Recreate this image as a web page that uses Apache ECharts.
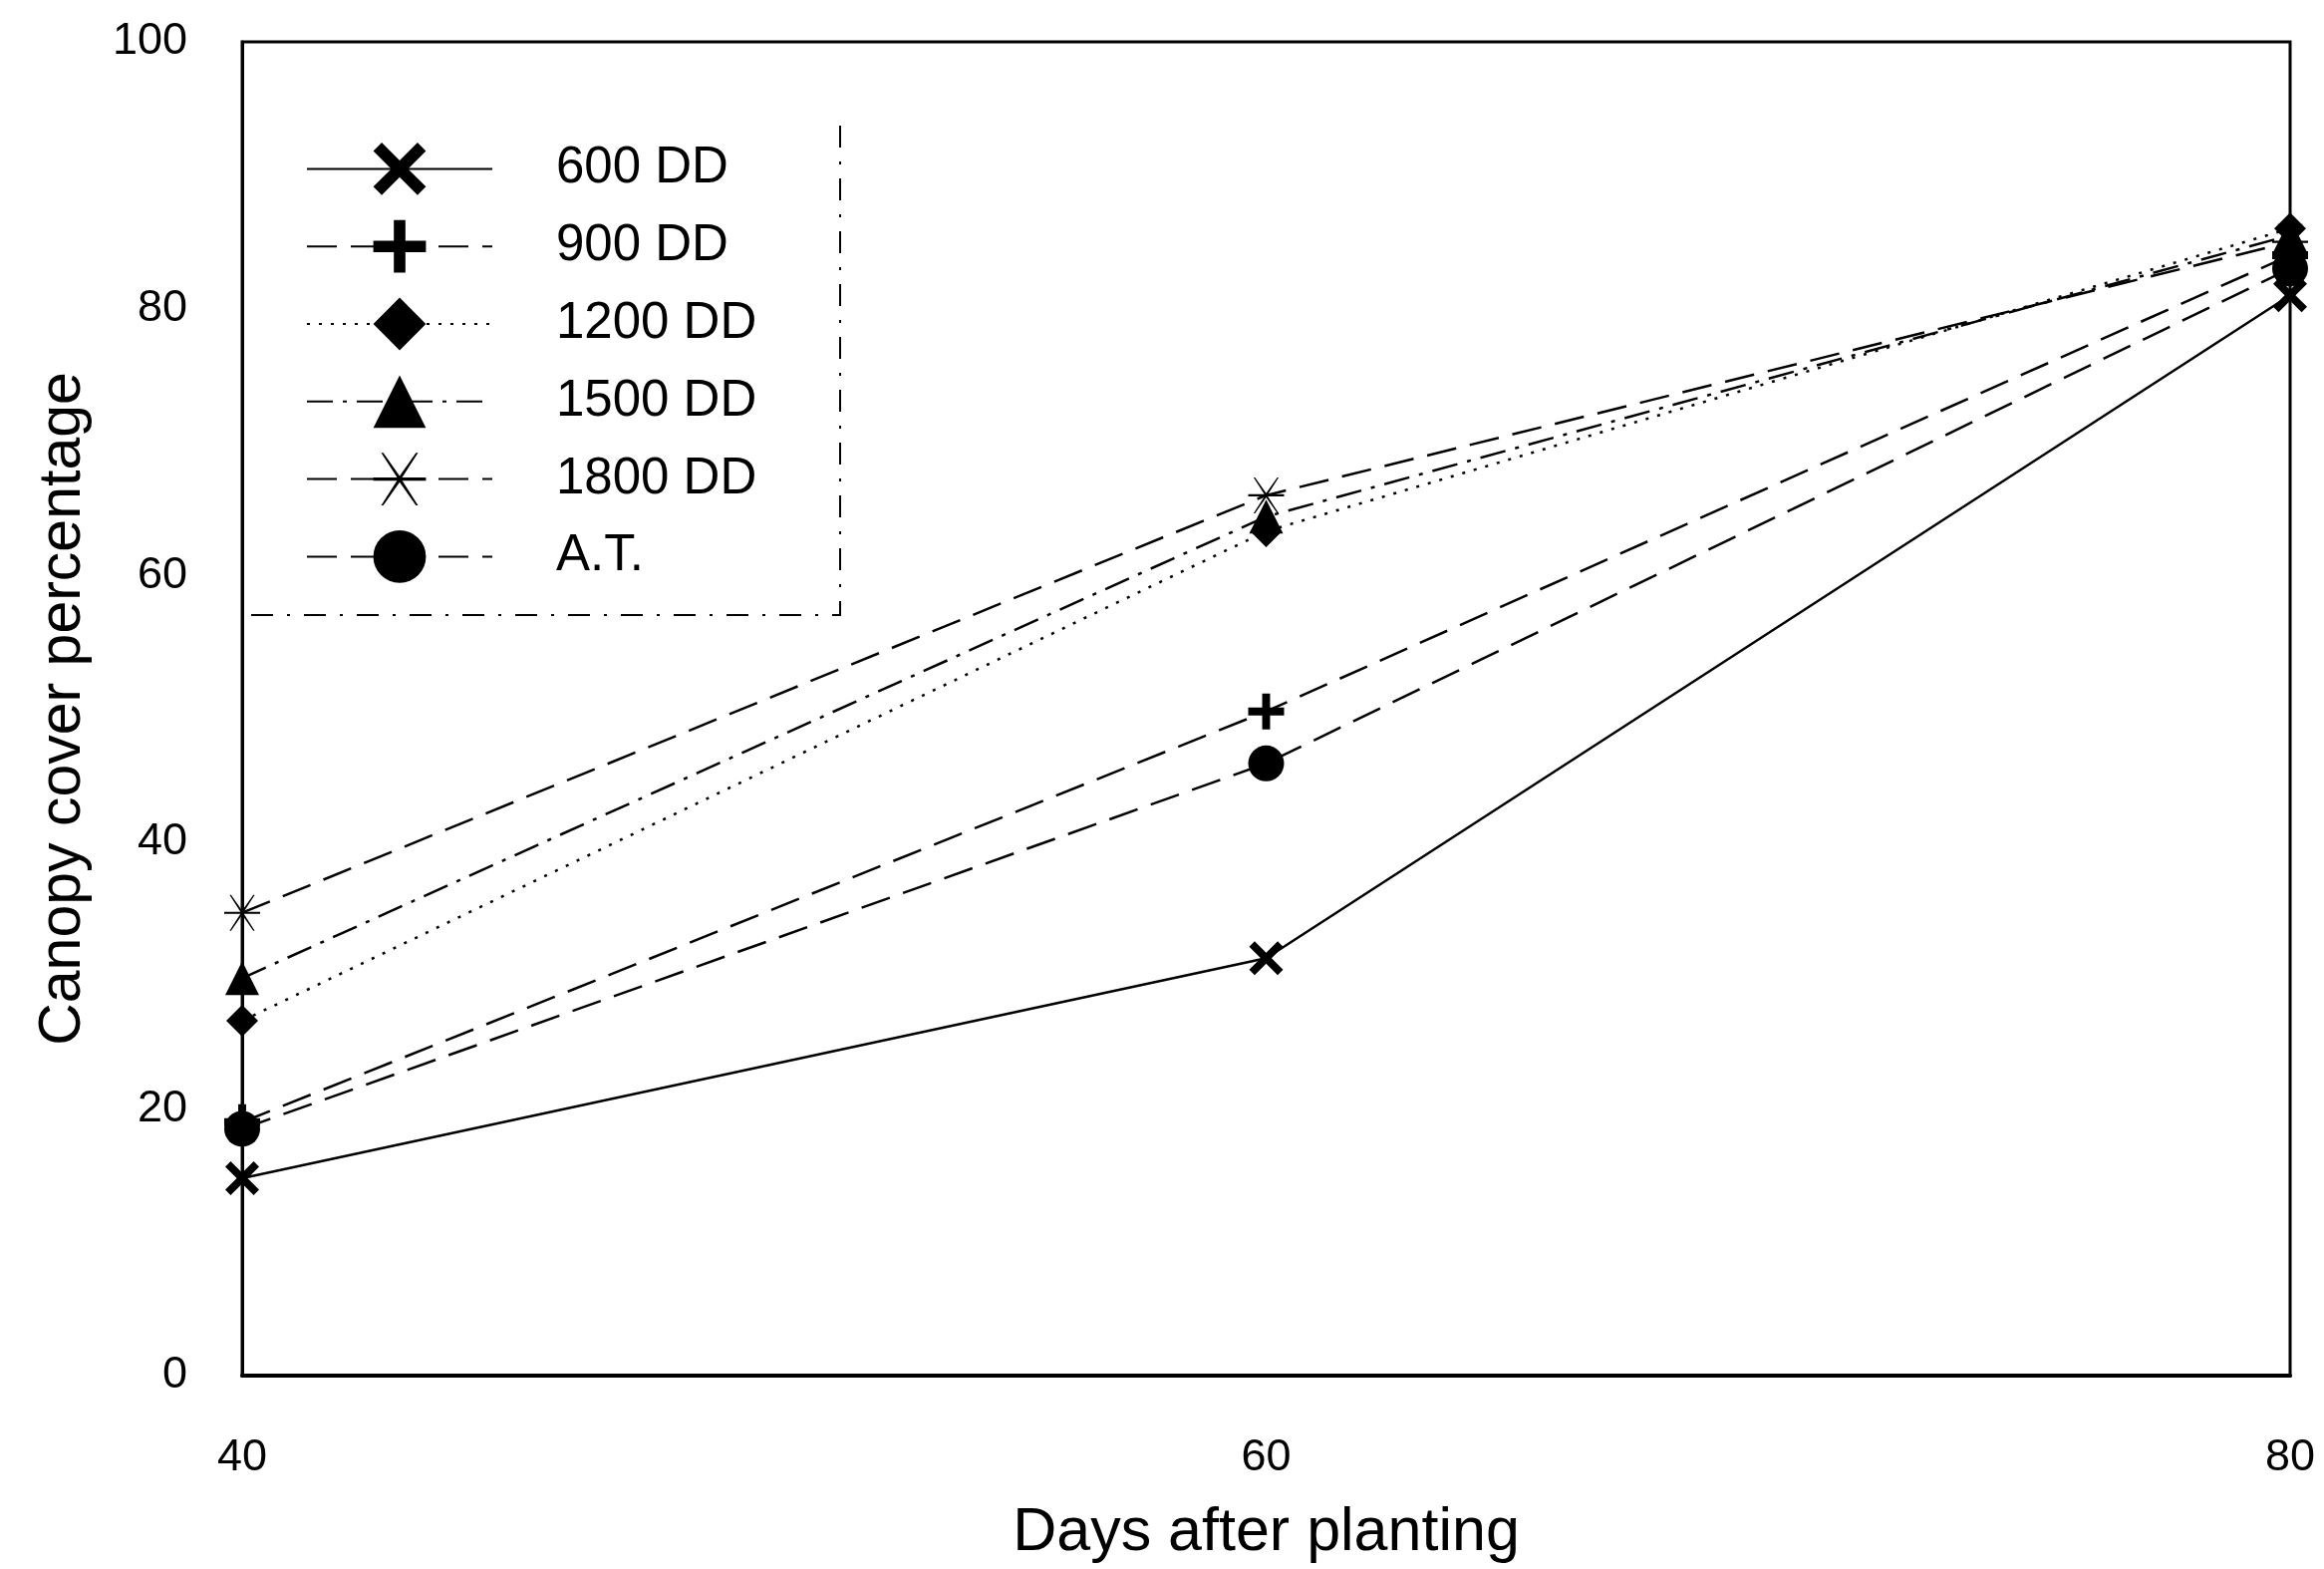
<!DOCTYPE html>
<html>
<head>
<meta charset="utf-8">
<style>html,body{margin:0;padding:0;background:#fff}#c{width:2332px;height:1574px}</style>
<script src="https://cdn.jsdelivr.net/npm/echarts@6/dist/echarts.min.js"></script>
</head>
<body>
<div id="c"></div>
<script>
const days = [40, 60, 80];
const seriesNames = ['600 DD', '900 DD', '1200 DD', '1500 DD', '1800 DD', 'A.T.'];
const v600 = [14.8, 31.3, 81];
const v900 = [19, 49.8, 84];
const v1200 = [26.6, 63.3, 86];
const v1500 = [29.8, 64.4, 85.5];
const v1800 = [34.7, 66, 85];
const vAT = [18.5, 45.9, 83];
const yTicks = [0, 20, 40, 60, 80, 100];
const xTicks = [40, 60, 80];

const SYM_X = 'path://M0,1.6 L1.6,0 L5,3.4 L8.4,0 L10,1.6 L6.6,5 L10,8.4 L8.4,10 L5,6.6 L1.6,10 L0,8.4 L3.4,5 Z';
const SYM_PLUS = 'path://M3.9,0 L6.1,0 L6.1,3.9 L10,3.9 L10,6.1 L6.1,6.1 L6.1,10 L3.9,10 L3.9,6.1 L0,6.1 L0,3.9 L3.9,3.9 Z';
const SYM_STAR = 'path://M0,4.7 L10,4.7 L10,5.3 L0,5.3 Z M1.5,0 L1.9,0 L5,4.4 L8.1,0 L8.5,0 L5.3,5 L8.5,10 L8.1,10 L5,5.6 L1.9,10 L1.5,10 L4.7,5 Z';

const vals = [v600, v900, v1200, v1500, v1800, vAT];
const symbols = [SYM_X, SYM_PLUS, 'diamond', 'triangle', SYM_STAR, 'circle'];
const sizes = [34, 36, 32, 34, 36, 36];
const dashes = ['solid', [30, 14], [3, 9], [26, 10, 4, 10], [30, 14], [30, 14]];

const series = seriesNames.map((n, i) => ({
  name: n,
  type: 'line',
  data: days.map((d, j) => [d, vals[i][j]]),
  symbol: symbols[i],
  symbolSize: sizes[i],
  showAllSymbol: true,
  clip: false,
  lineStyle: { color: '#000', width: 2.5, type: dashes[i] },
  itemStyle: { color: '#000', borderWidth: 0 },
  z: 2 + i
}));

const chart = echarts.init(document.getElementById('c'));
chart.setOption({
  animation: false,
  backgroundColor: '#fff',
  textStyle: { fontFamily: 'Liberation Sans, Arial, sans-serif', color: '#000' },
  grid: { left: 243, right: 34, top: 42, bottom: 189, show: true, borderColor: '#000', borderWidth: 3, backgroundColor: 'transparent' },
  xAxis: {
    type: 'value', min: 40, max: 80, interval: 20,
    name: 'Days after planting', nameLocation: 'middle', nameGap: 128,
    nameTextStyle: { fontSize: 61, color: '#000' },
    axisLine: { show: true, lineStyle: { color: '#000', width: 4 } },
    axisTick: { show: false },
    splitLine: { show: false },
    axisLabel: { fontSize: 45, color: '#000', margin: 60, formatter: v => xTicks.includes(v) ? String(v) : '' }
  },
  yAxis: {
    type: 'value', min: 0, max: 100, interval: 20,
    name: 'Canopy cover percentage', nameLocation: 'middle', nameGap: 150,
    nameTextStyle: { fontSize: 59, color: '#000' },
    axisLine: { show: true, lineStyle: { color: '#000', width: 3 } },
    axisTick: { show: false },
    splitLine: { show: false },
    axisLabel: { fontSize: 45, color: '#000', margin: 55, formatter: v => yTicks.includes(v) ? String(v) : '' }
  },
  legend: {
    orient: 'vertical', left: 302, top: 138,
    itemWidth: 186, itemHeight: 66, itemGap: 25,
    textStyle: { fontSize: 51, color: '#000', padding: [0, 0, 0, 59] },
    data: seriesNames
  },
  graphic: [{
    type: 'polyline',
    shape: { points: [[843, 126], [843, 617], [247, 617]] },
    style: { stroke: '#000', lineWidth: 2, lineDash: [22, 14, 3, 14], fill: 'none' },
    silent: true
  }],
  series: series
});
</script>
</body>
</html>
